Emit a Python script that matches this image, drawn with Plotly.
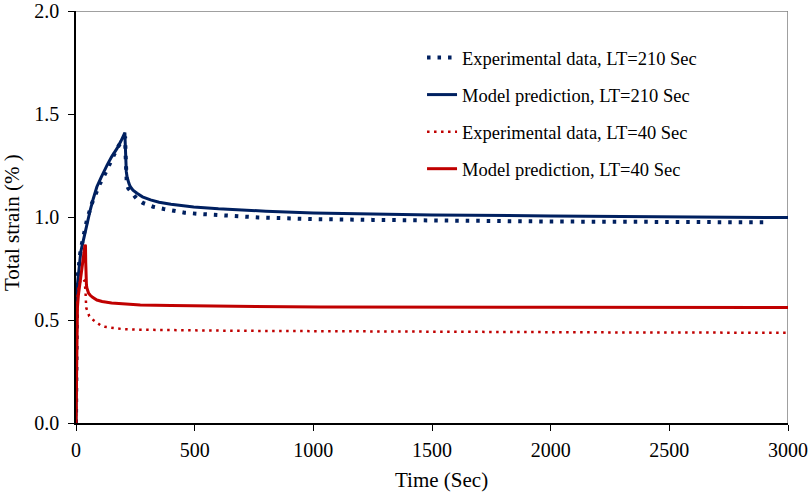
import plotly.graph_objects as go

# ---- data ----
t_exp210 = [0, 1, 4, 7, 12, 18, 25, 32, 46, 67, 88, 100, 117, 130, 145, 160, 173, 185, 195, 207, 209, 211, 214, 220, 232, 243, 255, 282, 325, 370, 410, 457, 520, 588, 680, 768, 880, 992, 1250, 1500, 2000, 2500, 2908]
v_exp210 = [0, 0.50, 0.613, 0.71, 0.77, 0.825, 0.87, 0.913, 0.985, 1.066, 1.131, 1.16, 1.196, 1.23, 1.268, 1.30, 1.333, 1.355, 1.375, 1.39, 1.30, 1.20, 1.16, 1.14, 1.12, 1.105, 1.09, 1.068, 1.05, 1.039, 1.03, 1.021, 1.015, 1.01, 1.003, 0.998, 0.994, 0.99, 0.986, 0.983, 0.978, 0.976, 0.974]

t_mod210 = [0, 0.5, 1, 2, 3, 5, 8, 12, 15, 20, 25, 32, 39, 48, 60, 73, 88, 105, 120, 131, 150, 173, 190, 206, 207, 208, 210, 212, 215, 218, 223, 229, 240, 257, 280, 314, 350, 400, 450, 496, 600, 700, 800, 1000, 1250, 1500, 2000, 2500, 3000]
v_mod210 = [0, 0.35, 0.45, 0.54, 0.60, 0.66, 0.70, 0.75, 0.79, 0.83, 0.856, 0.895, 0.93, 0.98, 1.034, 1.09, 1.147, 1.19, 1.227, 1.252, 1.292, 1.333, 1.37, 1.41, 1.37, 1.31, 1.26, 1.22, 1.195, 1.18, 1.163, 1.147, 1.13, 1.115, 1.098, 1.083, 1.072, 1.062, 1.055, 1.049, 1.04, 1.033, 1.028, 1.02, 1.014, 1.01, 1.005, 1.0, 0.997]

t_exp40 = [0, 1, 2, 5, 10, 15, 22, 29, 36, 40, 43, 50, 56, 63, 72, 81, 93, 107, 120, 138, 165, 194, 257, 356, 550, 778, 1100, 1500, 2200, 3000]
v_exp40 = [0, 0.30, 0.45, 0.60, 0.65, 0.68, 0.695, 0.70, 0.69, 0.64, 0.56, 0.53, 0.518, 0.508, 0.50, 0.492, 0.48, 0.471, 0.467, 0.464, 0.46, 0.456, 0.453, 0.451, 0.449, 0.447, 0.445, 0.443, 0.44, 0.438]

t_mod40 = [0, 1, 2, 3, 4, 6, 10, 14, 18, 23, 29, 34, 38, 40, 41, 42, 44, 46, 50, 53, 60, 70, 88, 110, 150, 200, 271, 400, 637, 1031, 2000, 3000]
v_mod40 = [0, 0.20, 0.30, 0.42, 0.50, 0.56, 0.62, 0.66, 0.694, 0.74, 0.79, 0.83, 0.865, 0.86, 0.78, 0.70, 0.67, 0.655, 0.638, 0.63, 0.62, 0.61, 0.597, 0.59, 0.583, 0.578, 0.573, 0.570, 0.568, 0.563, 0.562, 0.561]

names = ["Experimental data, LT=210 Sec", "Model prediction, LT=210 Sec",
         "Experimental data, LT=40 Sec", "Model prediction, LT=40 Sec"]

x_ticks = [0, 500, 1000, 1500, 2000, 2500, 3000]
y_ticks = [0.0, 0.5, 1.0, 1.5, 2.0]

BLUE = "#002060"
RED = "#C00000"
FONT = "Times New Roman"

fig = go.Figure()
fig.add_trace(go.Scatter(x=t_exp210, y=v_exp210, mode="lines", name=names[0], legendgroup="a",
                         line=dict(color=BLUE, width=4, dash="3.5px,7px")))
fig.add_trace(go.Scatter(x=t_mod210, y=v_mod210, mode="lines", name=names[1], legendgroup="b",
                         line=dict(color=BLUE, width=3)))
fig.add_trace(go.Scatter(x=t_exp40, y=v_exp40, mode="lines", name=names[2], legendgroup="c",
                         line=dict(color=RED, width=2.5, dash="2.5px,4.5px")))
fig.add_trace(go.Scatter(x=t_mod40, y=v_mod40, mode="lines", name=names[3], legendgroup="d",
                         line=dict(color=RED, width=3)))

# gray top / right frame
fig.add_shape(type="line", xref="x", yref="y", x0=0, x1=3000, y0=2, y1=2,
              line=dict(color="#808080", width=1.5), layer="below")
fig.add_shape(type="line", xref="x", yref="y", x0=3000, x1=3000, y0=0, y1=2,
              line=dict(color="#808080", width=1.5), layer="below")

fig.update_layout(
    template="none",
    width=809, height=494,
    margin=dict(l=76, r=21, t=11, b=71),
    paper_bgcolor="white", plot_bgcolor="white",
    font=dict(family=FONT, size=20, color="black"),
    showlegend=True,
    legend=dict(x=0.486, y=0.932, xanchor="left", yanchor="top",
                font=dict(family=FONT, size=18.5, color="black"),
                bgcolor="rgba(0,0,0,0)", tracegroupgap=10, traceorder="grouped"),
    xaxis=dict(range=[0, 3000], tickvals=x_ticks, ticktext=[str(v) for v in x_ticks],
               showline=True, linecolor="black", linewidth=1.5, showgrid=False, zeroline=False,
               ticks="outside", ticklen=6, tickcolor="black", tickwidth=1.2, automargin=False,
               ticklabelstandoff=2,
               tickfont=dict(family=FONT, size=20, color="black")),
    yaxis=dict(range=[0, 2.0], tickvals=y_ticks, ticktext=["%.1f" % v for v in y_ticks],
               showline=True, linecolor="black", linewidth=1.5, showgrid=False, zeroline=False,
               ticks="outside", ticklen=6, tickcolor="black", tickwidth=1.2, automargin=False,
               ticklabelstandoff=5,
               tickfont=dict(family=FONT, size=20, color="black")),
    annotations=[
        dict(text="Time (Sec)", xref="paper", yref="paper", x=0.5, y=0, xshift=9, yshift=-57,
             showarrow=False, xanchor="center", yanchor="middle",
             font=dict(family=FONT, size=21, color="black")),
        dict(text="Total strain (% )", xref="paper", yref="paper", x=0, y=0.5, xshift=-64, yshift=-6,
             showarrow=False, textangle=-90, xanchor="center", yanchor="middle",
             font=dict(family=FONT, size=21, color="black")),
    ],
)

fig.write_html("out.html")
